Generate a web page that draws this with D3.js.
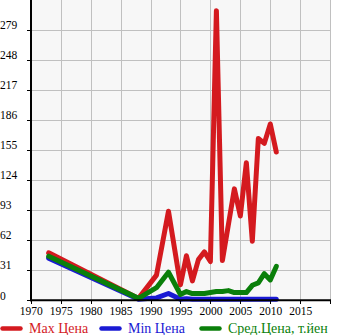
<!DOCTYPE html>
<html><head><meta charset="utf-8">
<script src="https://cdn.jsdelivr.net/npm/d3@7"></script>
<style>html,body{margin:0;padding:0;background:#fff;}svg{display:block;}</style>
</head><body>
<script>
const yTicks = [0, 31, 62, 93, 124, 155, 186, 217, 248, 279];
const xTicks = [1970, 1975, 1980, 1985, 1990, 1995, 2000, 2005, 2010, 2015];

const maxYears = [1973, 1988, 1991, 1993, 1995, 1996, 1997, 1998, 1999, 2000, 2001, 2002, 2004, 2005, 2006, 2007, 2008, 2009, 2010, 2011];
const maxValues = [49, 2, 26, 92, 16, 46, 20, 42, 50, 40, 299, 41, 115, 87, 142, 61, 167, 162, 182, 153];

const minYears = [1973, 1988, 1991, 1993, 1995, 1996, 1997, 1998, 1999, 2000, 2001, 2002, 2003, 2004, 2005, 2006, 2007, 2008, 2009, 2010, 2011];
const minValues = [43.5, 1, 2.5, 7, 1, 1.5, 1, 1, 1, 1, 1, 1, 1, 1, 1, 1, 1, 1, 1, 1, 1];

const avgYears = [1973, 1988, 1991, 1993, 1995, 1996, 1997, 1998, 1999, 2000, 2001, 2002, 2003, 2004, 2005, 2006, 2007, 2008, 2009, 2010, 2011];
const avgValues = [45.5, 2, 13, 29, 6, 9, 7, 7, 7, 8, 9, 9, 10, 8, 8, 8, 15.5, 18, 27.5, 21, 35];

const seriesNames = ["Max Цена", "Min Цена", "Сред.Цена, т.йен"];
const seriesColors = ["#d41a1f", "#1a1ad4", "#0a7f0a"];

const W = 345, H = 335;
const svg = d3.select("body").append("svg").attr("width", W).attr("height", H);

const x = d3.scaleLinear().domain([1970, 2020]).range([30.7, 330.2]);
const y = d3.scaleLinear().domain([0, 310]).range([300.3, 0]);

// plot background
svg.append("rect").attr("x", x(1970)).attr("y", 0)
  .attr("width", x(2020) - x(1970)).attr("height", y(0))
  .attr("fill", "#f7f7f7");

// grid
const grid = svg.append("g").attr("stroke", "#c0c0c0").attr("stroke-width", 1);
grid.selectAll("line.v").data(xTicks.slice(1).concat([2020])).enter().append("line")
  .attr("x1", d => Math.round(x(d)) + 0.5).attr("x2", d => Math.round(x(d)) + 0.5)
  .attr("y1", 0).attr("y2", y(0));
grid.selectAll("line.h").data(yTicks.slice(1)).enter().append("line")
  .attr("x1", x(1970)).attr("x2", x(2020))
  .attr("y1", d => Math.round(y(d)) + 0.5).attr("y2", d => Math.round(y(d)) + 0.5);

// lines
const line = d3.line().x(d => x(d[0])).y(d => y(d[1]));
const seriesData = [
  d3.zip(maxYears, maxValues),
  d3.zip(minYears, minValues),
  d3.zip(avgYears, avgValues)
];
seriesData.forEach((data, i) => {
  svg.append("path").datum(data)
    .attr("d", line)
    .attr("fill", "none")
    .attr("stroke", seriesColors[i])
    .attr("stroke-width", 5)
    .attr("stroke-linejoin", "round")
    .attr("stroke-linecap", "round");
});

// axes lines
svg.append("line").attr("x1", 31).attr("x2", 31).attr("y1", 0).attr("y2", 301.3)
  .attr("stroke", "#000").attr("stroke-width", 2);
svg.append("line").attr("x1", 30).attr("x2", 331).attr("y1", 300.3).attr("y2", 300.3)
  .attr("stroke", "#000").attr("stroke-width", 2);

// y ticks
const yt = svg.append("g");
yt.selectAll("line").data(yTicks).enter().append("line")
  .attr("x1", 27).attr("x2", 30)
  .attr("y1", d => Math.round(y(d)) + 0.5).attr("y2", d => Math.round(y(d)) + 0.5)
  .attr("stroke", "#000").attr("stroke-width", 1);
yt.selectAll("text").data(yTicks).enter().append("text")
  .attr("x", 0).attr("y", d => y(d) - 0.8)
  .attr("font-family", "Liberation Serif").attr("font-size", "11.5px")
  .attr("fill", "#000")
  .text(d => d);

// x ticks
const xt = svg.append("g");
xt.selectAll("line").data(xTicks.concat([2020])).enter().append("line")
  .attr("x1", d => Math.round(x(d)) + 0.5).attr("x2", d => Math.round(x(d)) + 0.5)
  .attr("y1", 301).attr("y2", 304)
  .attr("stroke", "#000").attr("stroke-width", 1);
xt.selectAll("text").data(xTicks).enter().append("text")
  .attr("x", d => x(d) + 0.5).attr("y", 315)
  .attr("text-anchor", "middle")
  .attr("font-family", "Liberation Serif").attr("font-size", "11.5px")
  .attr("fill", "#000")
  .text(d => d);

// legend
const legendX = [0, 99, 199];
const lg = svg.append("g");
seriesNames.forEach((name, i) => {
  lg.append("line")
    .attr("x1", legendX[i] + 2.5).attr("x2", legendX[i] + 20.5)
    .attr("y1", 328.5).attr("y2", 328.5)
    .attr("stroke", seriesColors[i]).attr("stroke-width", 4.5)
    .attr("stroke-linecap", "round");
  lg.append("text")
    .attr("x", legendX[i] + 29).attr("y", 332.5)
    .attr("font-family", "Liberation Serif").attr("font-size", "14px")
    .attr("fill", seriesColors[i])
    .text(name);
});
</script>
</body></html>
